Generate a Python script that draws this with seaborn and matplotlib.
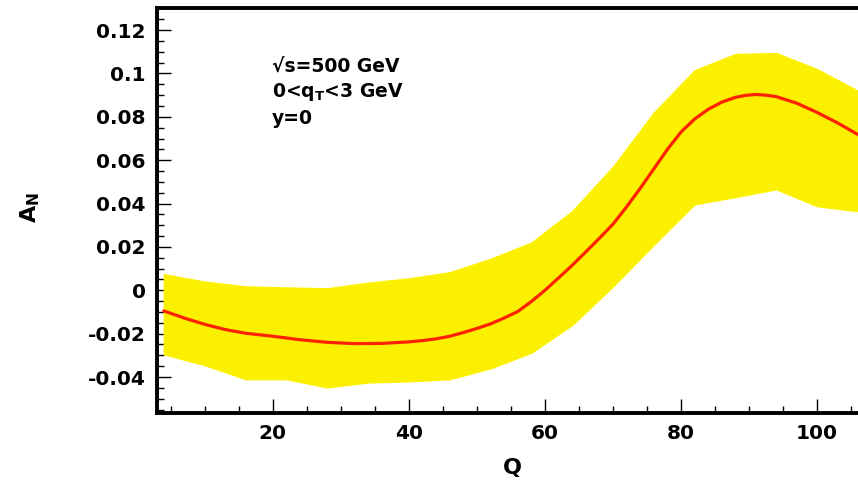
import matplotlib
matplotlib.use("Agg")
import matplotlib.pyplot as plt
import seaborn as sns
import pandas as pd
from matplotlib.ticker import MultipleLocator

# ---- data ----
band_q = [4, 10, 16, 22, 28, 34, 40, 46, 52, 58, 64, 70, 76, 82, 88, 94, 100, 106]
band_upper = [0.0074, 0.0040, 0.0018, 0.0013, 0.0009, 0.0035, 0.0055, 0.0083, 0.0145,
              0.0220, 0.0365, 0.0570, 0.0820, 0.1015, 0.1090, 0.1094, 0.1020, 0.0920]
band_lower = [-0.0295, -0.0345, -0.0410, -0.0410, -0.0448, -0.0425, -0.0420, -0.0410, -0.0360,
              -0.0288, -0.0160, 0.0018, 0.0210, 0.0397, 0.0430, 0.0466, 0.0388, 0.0365]

line_q = [4, 7, 10, 13, 16, 20, 24, 28, 32, 36, 40, 42, 44, 46, 48, 50, 52, 54, 56, 58,
          60, 62, 64, 66, 68, 70, 72, 74, 76, 78, 80, 82, 84, 86, 88, 89.5, 91, 92.5,
          94, 97, 100, 103, 106]
line_an = [-0.0095, -0.0128, -0.0157, -0.0181, -0.0198, -0.0212, -0.0228, -0.0240, -0.0246,
           -0.0245, -0.0238, -0.0232, -0.0224, -0.0212, -0.0195, -0.0176, -0.0155, -0.0128,
           -0.0098, -0.0052, 0.0000, 0.0057, 0.0115, 0.0177, 0.0240, 0.0305, 0.0385, 0.0470,
           0.0560, 0.0650, 0.0730, 0.0790, 0.0835, 0.0868, 0.0890, 0.0899, 0.0903, 0.0900,
           0.0893, 0.0863, 0.0820, 0.0772, 0.0718]

x_ticks = [20, 40, 60, 80, 100]
y_ticks = [-0.04, -0.02, 0, 0.02, 0.04, 0.06, 0.08, 0.1, 0.12]
y_ticklabels = ["-0.04", "-0.02", "0", "0.02", "0.04", "0.06", "0.08", "0.1", "0.12"]
annot_lines = ["\u221as=500 GeV", r"0<q$_\mathbf{T}$<3 GeV", "y=0"]

sns.set_style("ticks")
plt.rcParams['font.family'] = ['DejaVu Sans']
plt.rcParams['font.weight'] = 'bold'
plt.rcParams['text.color'] = 'black'
plt.rcParams['axes.labelcolor'] = 'black'
plt.rcParams['xtick.color'] = 'black'
plt.rcParams['ytick.color'] = 'black'
plt.rcParams['mathtext.fontset'] = 'custom'
plt.rcParams['mathtext.rm'] = 'DejaVu Sans:bold'
plt.rcParams['mathtext.it'] = 'DejaVu Sans:bold'
plt.rcParams['mathtext.bf'] = 'DejaVu Sans:bold'

fig = plt.figure(figsize=(8.58, 4.82), dpi=100)
ax = fig.add_axes([157/858, 1 - 413/482, 1 - 157/858, (413 - 8)/482])

ax.fill_between(band_q, band_lower, band_upper, color='#fbf000', edgecolor='#fff200',
                linewidth=1.0, zorder=1)

df = pd.DataFrame({"Q": line_q, "AN": line_an})
sns.lineplot(data=df, x="Q", y="AN", ax=ax, color='#ff2200', linewidth=2.3, zorder=3)

ax.set_xlim(3.0, 106)
ax.set_ylim(-0.0566, 0.1302)

ax.set_xticks(x_ticks)
ax.set_xticklabels([str(t) for t in x_ticks])
ax.set_yticks(y_ticks)
ax.set_yticklabels(y_ticklabels)
ax.xaxis.set_minor_locator(MultipleLocator(5))
ax.yaxis.set_minor_locator(MultipleLocator(0.005))

ax.tick_params(axis='both', which='major', direction='in', length=10, width=1.0,
               labelsize=14.5, pad=8, colors='black')
ax.tick_params(axis='both', which='minor', direction='in', length=5, width=1.0,
               colors='black')
for lab in ax.get_xticklabels() + ax.get_yticklabels():
    lab.set_fontweight('bold')
    lab.set_color('black')

for side in ['left', 'bottom', 'top']:
    ax.spines[side].set_linewidth(2.8)
    ax.spines[side].set_color('black')
ax.spines['right'].set_visible(False)

ax.set_xlabel("Q", fontsize=16, fontweight='bold', color='black')
ax.xaxis.set_label_coords((512 - 157)/701, -(468 - 413)/405)
ax.set_ylabel(r"A$_\mathbf{N}$", fontsize=16, fontweight='bold', color='black')
ax.yaxis.set_label_coords((30 - 157)/701, (413 - 208)/405)
ax.xaxis.label.set_va('center')
ax.yaxis.label.set_va('center')

for i, txt in enumerate(annot_lines):
    ax.text(272/858, 1 - (66 + 26*i)/482, txt, transform=fig.transFigure,
            fontsize=13.5, fontweight='bold', va='center', ha='left', color='black')

fig.savefig("out.png", dpi=100)
